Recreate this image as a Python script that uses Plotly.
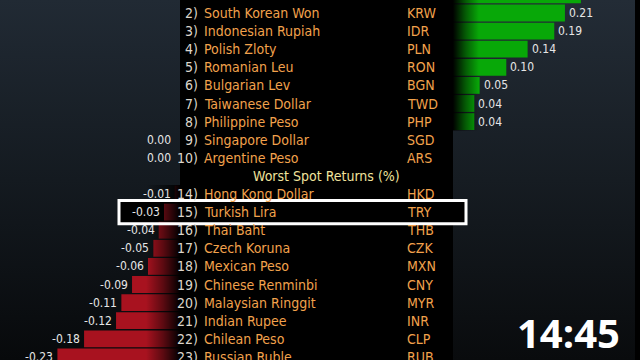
import base64
import plotly.graph_objects as go

# ---------------- data ----------------
ranks = [1, 2, 3, 4, 5, 6, 7, 8, 9, 10, 14, 15, 16, 17, 18, 19, 20, 21, 22, 23]
names = ["", "South Korean Won", "Indonesian Rupiah", "Polish Zloty", "Romanian Leu",
         "Bulgarian Lev", "Taiwanese Dollar", "Philippine Peso", "Singapore Dollar",
         "Argentine Peso", "Hong Kong Dollar", "Turkish Lira", "Thai Baht", "Czech Koruna",
         "Mexican Peso", "Chinese Renminbi", "Malaysian Ringgit", "Indian Rupee",
         "Chilean Peso", "Russian Ruble"]
codes = ["", "KRW", "IDR", "PLN", "RON", "BGN", "TWD", "PHP", "SGD", "ARS",
         "HKD", "TRY", "THB", "CZK", "MXN", "CNY", "MYR", "INR", "CLP", "RUB"]
returns = [0.24, 0.21, 0.19, 0.14, 0.10, 0.05, 0.04, 0.04, 0.00, 0.00,
           -0.01, -0.03, -0.04, -0.05, -0.06, -0.09, -0.11, -0.12, -0.18, -0.23]
header = "Worst Spot Returns (%)"
highlight_code = "TRY"
clock = "14:45"
N_BEST = 10

# ---------------- layout constants ----------------
W, H = 640, 360
PXU = 533.0            # pixels per unit of return
LEFT_END = 180         # start of black centre panel
RIGHT_START = 453
RIGHT_END = 635
Y0, PITCH = -5.1, 18.1

slots = [i if i < N_BEST else i + 1 for i in range(len(ranks))]
header_slot = N_BEST


def px(x):
    return x / W


def py(y):
    return 1 - y / H


def slot_px(s):
    return Y0 + PITCH * s


def grad_svg(stops, horizontal=False):
    x2, y2 = ("1", "0") if horizontal else ("0", "1")
    st = "".join(
        f'<stop offset="{o}" stop-color="{c}" stop-opacity="{a}"/>' for o, c, a in stops)
    svg = (f'<svg xmlns="http://www.w3.org/2000/svg" width="100" height="100" '
           f'viewBox="0 0 100 100" preserveAspectRatio="none"><defs>'
           f'<linearGradient id="g" x1="0" y1="0" x2="{x2}" y2="{y2}">{st}</linearGradient>'
           f'</defs><rect x="0" y="0" width="100" height="100" fill="url(#g)"/></svg>')
    return "data:image/svg+xml;base64," + base64.b64encode(svg.encode()).decode()


NAME_FONT = "DejaVu Sans Condensed, Liberation Sans Narrow, DejaVu Sans, sans-serif"
NARROW_FONT = "Liberation Sans Narrow, DejaVu Sans Condensed, sans-serif"
ORANGE = "#f2a24c"

fig = go.Figure()

neg = [v if v < 0 else None for v in returns]
pos = [v if v > 0 else None for v in returns]

fig.add_trace(go.Bar(x=neg, y=slots, orientation="h", xaxis="x", yaxis="y",
                     marker=dict(color="#a8121f", line=dict(width=0)), width=0.93,
                     hoverinfo="skip", showlegend=False))
fig.add_trace(go.Bar(x=pos, y=slots, orientation="h", xaxis="x2", yaxis="y",
                     marker=dict(color="#08a808", line=dict(width=0)), width=0.93,
                     hoverinfo="skip", showlegend=False))

ann = []
for r, n, c, v, s in zip(ranks, names, codes, returns, slots):
    ann.append(dict(xref="paper", yref="y", x=px(200), y=s, text=f"{r})",
                    xanchor="right", yanchor="middle", showarrow=False,
                    font=dict(family=NARROW_FONT, size=14, color="#dcd6cc")))
    if n:
        ann.append(dict(xref="paper", yref="y", x=px(202), y=s, text=n,
                        xanchor="left", yanchor="middle", showarrow=False,
                        font=dict(family=NAME_FONT, size=14, color=ORANGE)))
    if c:
        ann.append(dict(xref="paper", yref="y", x=px(405), y=s, text=c,
                        xanchor="left", yanchor="middle", showarrow=False,
                        font=dict(family=NAME_FONT, size=14, color=ORANGE)))
    lbl = f"{v:.2f}"
    if v > 0:
        ann.append(dict(xref="x2", yref="y", x=v, y=s, text=lbl, xanchor="left",
                        yanchor="middle", xshift=2, showarrow=False,
                        font=dict(family=NARROW_FONT, size=12, color="#e6e6e6")))
    else:
        ann.append(dict(xref="x", yref="y", x=v, y=s, text=lbl, xanchor="right",
                        yanchor="middle", xshift=-2 if v < 0 else -7, showarrow=False,
                        font=dict(family=NARROW_FONT, size=12, color="#e6e6e6")))

ann.append(dict(xref="paper", yref="y", x=px(326), y=header_slot, text=header,
                xanchor="center", yanchor="middle", showarrow=False,
                font=dict(family=NAME_FONT, size=14, color="#f1e39c")))
ann.append(dict(xref="paper", yref="paper", x=px(568), y=py(332), text=clock,
                xanchor="center", yanchor="middle", showarrow=False,
                font=dict(family="Open Sans, sans-serif", size=40, color="#ffffff",
                          weight=700)))

hl = slots[codes.index(highlight_code)]
shapes = [
    dict(type="rect", xref="paper", yref="paper", x0=px(LEFT_END), x1=px(RIGHT_START),
         y0=0, y1=1, fillcolor="#000000", line=dict(width=0), layer="below"),
    dict(type="rect", xref="paper", yref="paper", x0=px(RIGHT_END), x1=1,
         y0=0, y1=1, fillcolor="#000000", line=dict(width=0), layer="below"),
    dict(type="rect", xref="paper", yref="y", x0=px(119), x1=px(466),
         y0=hl - 0.64, y1=hl + 0.64, fillcolor="#000000", line=dict(width=0),
         layer="below"),
    dict(type="rect", xref="paper", yref="y", x0=px(119), x1=px(466),
         y0=hl - 0.64, y1=hl + 0.64, fillcolor="rgba(0,0,0,0)",
         line=dict(color="#ffffff", width=3), layer="above"),
]

neg_top = slot_px(slots[N_BEST]) - PITCH / 2
pos_bottom = slot_px(slots[N_BEST - 3]) + PITCH / 2
images = [
    dict(source=grad_svg([(0, "#212a34", 1), (0.5, "#141a20", 1), (1, "#07090b", 1)]),
         xref="paper", yref="paper", x=0, y=1, sizex=px(LEFT_END), sizey=1,
         xanchor="left", yanchor="top", sizing="stretch", layer="below"),
    dict(source=grad_svg([(0, "#232c36", 1), (0.5, "#161c22", 1), (1, "#090b0d", 1)]),
         xref="paper", yref="paper", x=px(RIGHT_START), y=1,
         sizex=px(RIGHT_END - RIGHT_START), sizey=1,
         xanchor="left", yanchor="top", sizing="stretch", layer="below"),
    dict(source=grad_svg([(0, "#000000", 0), (0.5, "#000000", 0.45), (1, "#000000", 1)],
                         horizontal=True),
         xref="paper", yref="paper", x=px(146), y=py(neg_top), sizex=px(LEFT_END - 146),
         sizey=(H - neg_top) / H, xanchor="left", yanchor="top", sizing="stretch",
         layer="above"),
    dict(source=grad_svg([(0, "#000000", 1), (0.5, "#000000", 0.45), (1, "#000000", 0)],
                         horizontal=True),
         xref="paper", yref="paper", x=px(RIGHT_START), y=1, sizex=px(26),
         sizey=pos_bottom / H, xanchor="left", yanchor="top", sizing="stretch",
         layer="above"),
]

fig.update_layout(
    width=W, height=H, margin=dict(l=0, r=0, t=0, b=0),
    paper_bgcolor="#000000", plot_bgcolor="rgba(0,0,0,0)",
    barmode="overlay", showlegend=False,
    xaxis=dict(domain=[0, px(LEFT_END)], range=[-LEFT_END / PXU, 0], visible=False,
               fixedrange=True),
    xaxis2=dict(domain=[px(RIGHT_START), px(RIGHT_END)],
                range=[0, (RIGHT_END - RIGHT_START) / PXU], visible=False,
                anchor="y", fixedrange=True),
    yaxis=dict(domain=[0, 1], range=[(H - Y0) / PITCH, -Y0 / PITCH], visible=False,
               fixedrange=True),
    annotations=ann, shapes=shapes, images=images,
)

fig.write_html("out.html", config={"displayModeBar": False},
               post_script="document.body.style.margin='0';"
                           "document.body.style.background='#000';")
